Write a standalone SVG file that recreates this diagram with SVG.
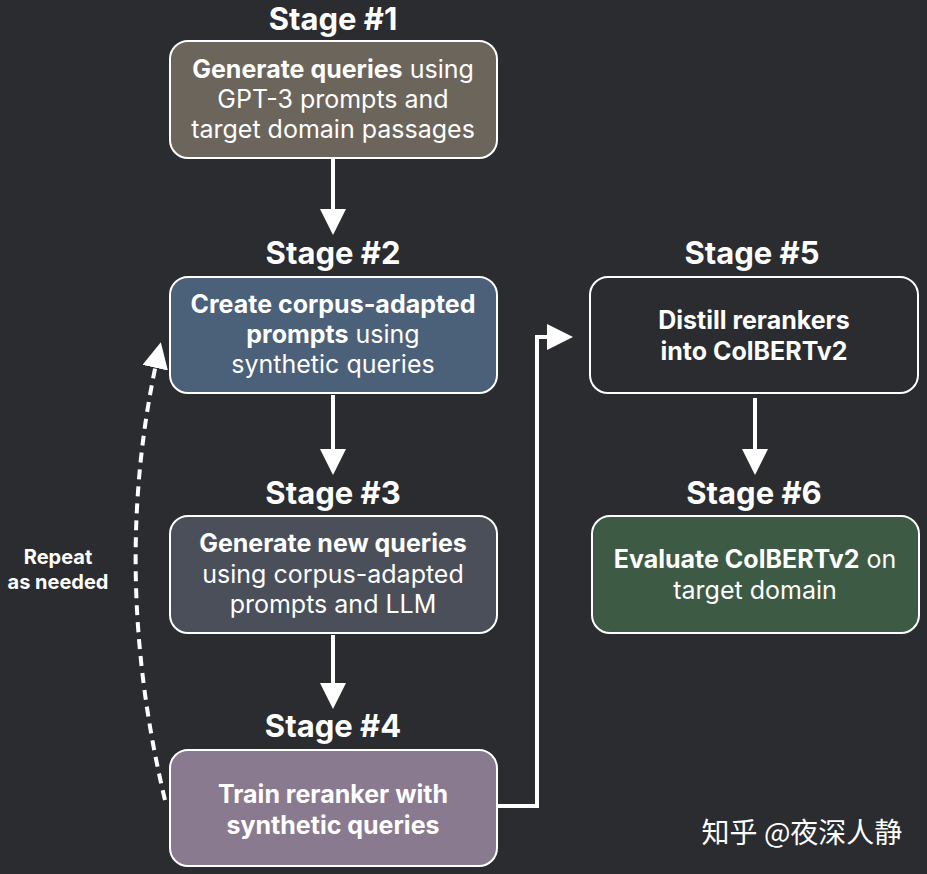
<svg xmlns="http://www.w3.org/2000/svg" width="927" height="874" viewBox="0 0 927 874">
<style>
.st{font:bold 31px "Inter","Liberation Sans",sans-serif;fill:#fff;text-anchor:middle}
.t{font:25px "Inter","Liberation Sans",sans-serif;fill:#fff;text-anchor:middle}
.b{font-weight:bold}
.box{stroke:#fff;stroke-width:2}
.ln{stroke:#fff;stroke-width:4;fill:none}
.lb{font:bold 20px "Inter","Liberation Sans",sans-serif;fill:#fff;text-anchor:middle}
</style>
<defs>
<marker id="ah" viewBox="0 0 10 10" refX="5" refY="5" markerWidth="6.5" markerHeight="6.5" orient="auto" markerUnits="strokeWidth">
<path d="M0,0L10,5L0,10z" fill="#fff"/></marker>
</defs>
<rect width="927" height="874" fill="#2a2c2f"/>
<g id="connectors">
<line class="ln" x1="333" y1="158" x2="333" y2="222" marker-end="url(#ah)"/>
<line class="ln" x1="333" y1="395" x2="333" y2="462" marker-end="url(#ah)"/>
<line class="ln" x1="333" y1="635" x2="333" y2="696" marker-end="url(#ah)"/>
<line class="ln" x1="755" y1="398" x2="755" y2="462" marker-end="url(#ah)"/>
<polyline class="ln" points="497,806 537,806 537,337 560,337" marker-end="url(#ah)"/>
<path class="ln" d="M165,800 Q110,570 158,355" stroke-dasharray="10,7" marker-end="url(#ah)"/>
</g>
<g id="s1">
<text class="st" x="333" y="30">Stage #1</text>
<rect class="box" x="170" y="41" width="327" height="117" rx="18" fill="#6c655c"/>
<text class="t" x="333" y="78"><tspan class="b">Generate queries</tspan> using</text>
<text class="t" x="333" y="108">GPT-3 prompts and</text>
<text class="t" x="333" y="138">target domain passages</text>
</g>
<g id="s2">
<text class="st" x="333" y="264">Stage #2</text>
<rect class="box" x="170" y="277" width="327" height="116" rx="18" fill="#4b6079"/>
<text class="t b" x="333" y="313">Create corpus-adapted</text>
<text class="t" x="333" y="343"><tspan class="b">prompts</tspan> using</text>
<text class="t" x="333" y="373">synthetic queries</text>
</g>
<g id="s3">
<text class="st" x="333" y="504">Stage #3</text>
<rect class="box" x="170" y="516" width="327" height="117" rx="18" fill="#4a4f5a"/>
<text class="t b" x="333" y="552">Generate new queries</text>
<text class="t" x="333" y="583">using corpus-adapted</text>
<text class="t" x="333" y="613">prompts and LLM</text>
</g>
<g id="s4">
<text class="st" x="333" y="737">Stage #4</text>
<rect class="box" x="170" y="750" width="327" height="116" rx="18" fill="#8a7a90"/>
<text class="t b" x="333" y="803">Train reranker with</text>
<text class="t b" x="333" y="834">synthetic queries</text>
</g>
<g id="s5">
<text class="st" x="752" y="264">Stage #5</text>
<rect class="box" x="590" y="277" width="328" height="116" rx="18" fill="#2a2c2f"/>
<text class="t b" x="754" y="329">Distill rerankers</text>
<text class="t b" x="754" y="360">into ColBERTv2</text>
</g>
<g id="s6">
<text class="st" x="754" y="504">Stage #6</text>
<rect class="box" x="592" y="516" width="327" height="117" rx="18" fill="#3d5a45"/>
<text class="t" x="755" y="568"><tspan class="b">Evaluate ColBERTv2</tspan> on</text>
<text class="t" x="755" y="599">target domain</text>
</g>
<g id="label">
<text class="lb" x="58" y="564">Repeat</text>
<text class="lb" x="58" y="589">as needed</text>
</g>
<text x="802" y="843" style="font:28px 'Noto Sans CJK SC',sans-serif;fill:#fff;text-anchor:middle">知乎 @夜深人静</text>
</svg>
